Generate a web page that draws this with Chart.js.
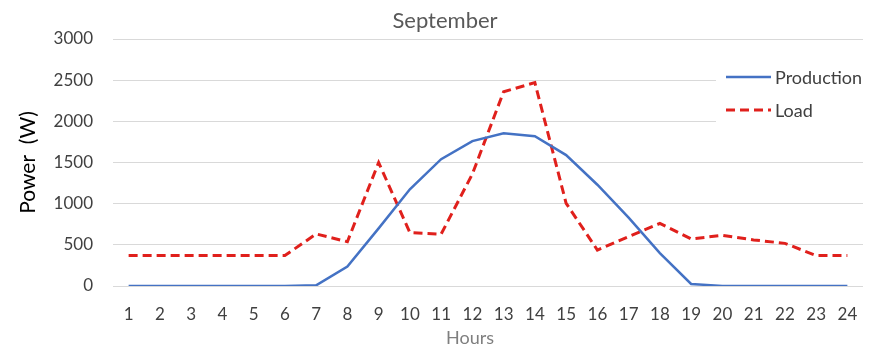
<!DOCTYPE html>
<html>
<head>
<meta charset="utf-8">
<script src="https://cdn.jsdelivr.net/npm/chart.js@4.4.1/dist/chart.umd.min.js"></script>
<style>
  html, body { margin: 0; padding: 0; background: #fff; }
  #grafico { display: block; }
</style>
</head>
<body>
<canvas id="grafico" width="894" height="360"></canvas>
<script>
const horas = ['1','2','3','4','5','6','7','8','9','10','11','12','13','14','15','16','17','18','19','20','21','22','23','24'];
const produccion = [0, 0, 0, 0, 0, 0, 8, 235, 700, 1175, 1540, 1760, 1855, 1820, 1590, 1230, 830, 400, 25, 0, 0, 0, 0, 0];
const carga = [370, 370, 370, 370, 370, 370, 632, 538, 1500, 648, 630, 1360, 2360, 2470, 1005, 437, 600, 760, 572, 615, 560, 518, 370, 370];
const ticksY = [0, 500, 1000, 1500, 2000, 2500, 3000];
const titulo = 'September';
const tituloX = 'Hours';

const fuente = 'Lato, "Open Sans", sans-serif';

// titulo y titulo del eje x en posicion fija
const textosFijos = {
    id: 'textosFijos',
    afterDraw(chart) {
        const ctx = chart.ctx;
        ctx.save();
        ctx.textAlign = 'center';
        ctx.textBaseline = 'alphabetic';
        ctx.fillStyle = '#595959';
        ctx.font = '22px ' + fuente;
        ctx.fillText(titulo, 445, 28);
        ctx.fillStyle = '#7f7f7f';
        ctx.font = '18px ' + fuente;
        ctx.fillText(tituloX, 470, 344);
        ctx.restore();
    }
};

// leyenda dibujada dentro del area del grafico, a la derecha
const leyendaDentro = {
    id: 'leyendaDentro',
    afterDatasetsDraw(chart) {
        const ctx = chart.ctx;
        ctx.save();
        ctx.fillStyle = '#ffffff';
        ctx.fillRect(716, 58, 178, 78);
        chart.data.datasets.forEach((ds, i) => {
            const y = 77 + i * 33;
            ctx.strokeStyle = ds.borderColor;
            ctx.lineWidth = ds.borderWidth;
            ctx.setLineDash(ds.borderDash || []);
            ctx.beginPath();
            ctx.moveTo(726, y);
            ctx.lineTo(771, y);
            ctx.stroke();
            ctx.setLineDash([]);
            ctx.fillStyle = '#404040';
            ctx.font = '18px ' + fuente;
            ctx.textBaseline = 'middle';
            ctx.fillText(ds.label, 775, y + 1);
        });
        ctx.restore();
    }
};

const ctx = document.getElementById('grafico').getContext('2d');
new Chart(ctx, {
    type: 'line',
    data: {
        labels: horas,
        datasets: [
            {
                label: 'Production',
                data: produccion,
                borderColor: '#4472C4',
                borderWidth: 2.5,
                pointRadius: 0,
                tension: 0,
                fill: false
            },
            {
                label: 'Load',
                data: carga,
                borderColor: '#E0201C',
                borderWidth: 3,
                borderDash: [9, 5],
                pointRadius: 0,
                tension: 0,
                fill: false
            }
        ]
    },
    options: {
        responsive: false,
        animation: false,
        devicePixelRatio: 1,
        layout: { padding: { left: 0, right: 31, top: 39, bottom: 0 } },
        plugins: {
            legend: { display: false },
            tooltip: { enabled: false },
            title: { display: false }
        },
        scales: {
            x: {
                offset: true,
                grid: { display: false, drawTicks: false },
                border: { display: false },
                ticks: {
                    color: '#404040',
                    font: { family: fuente, size: 17 },
                    padding: 18,
                    maxRotation: 0,
                    autoSkip: false
                },
                afterFit(scale) { scale.height = 74; }
            },
            y: {
                min: 0,
                max: 3000,
                afterBuildTicks(scale) { scale.ticks = ticksY.map(v => ({ value: v })); },
                grid: { color: '#d9d9d9', lineWidth: 1, drawTicks: false },
                border: { display: false },
                ticks: {
                    color: '#404040',
                    font: { family: fuente, size: 17 },
                    padding: 20,
                    callback: v => String(v)
                },
                title: {
                    display: true,
                    text: 'Power  (W)',
                    color: '#000000',
                    font: { family: fuente, size: 21 },
                    padding: { top: 16, bottom: 0 }
                },
                afterFit(scale) { scale.width = 113; }
            }
        }
    },
    plugins: [leyendaDentro, textosFijos]
});
</script>
</body>
</html>
